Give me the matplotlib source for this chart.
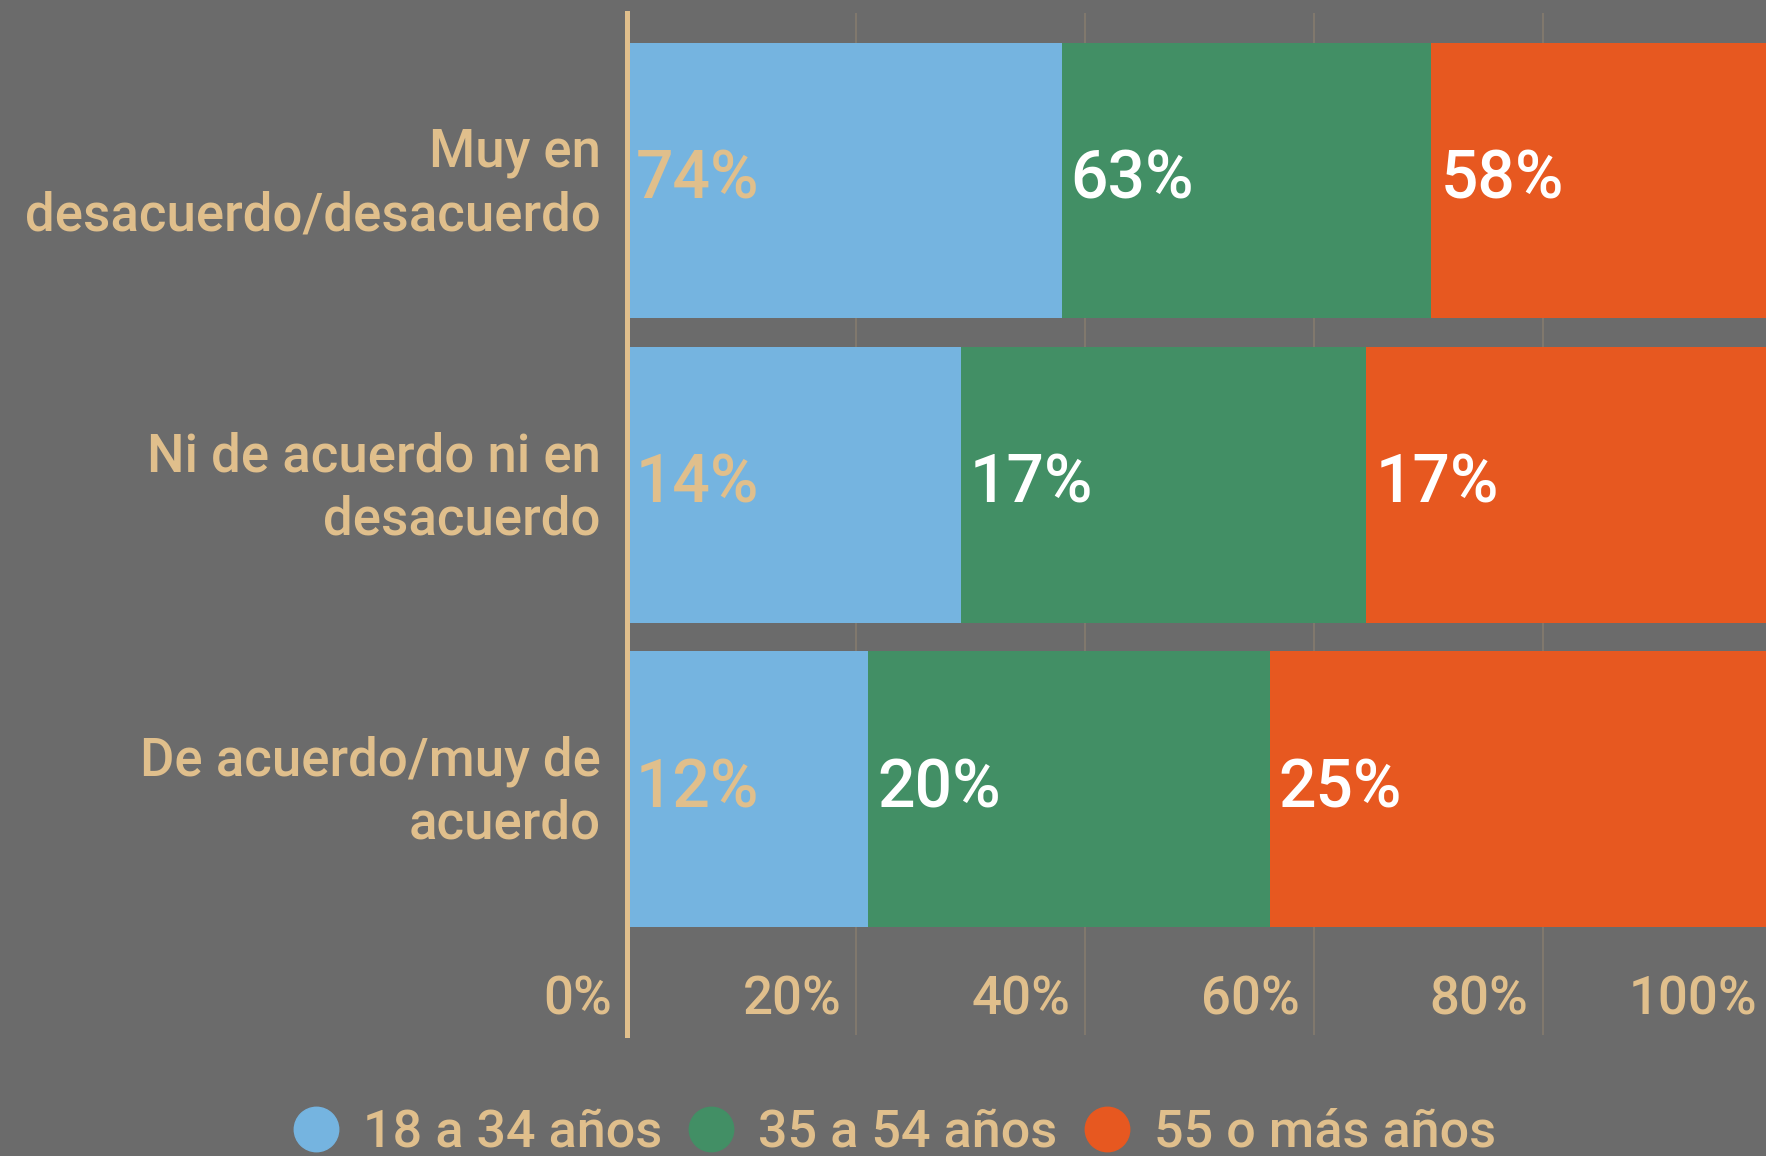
import numpy as np
import matplotlib
matplotlib.use('Agg')
import matplotlib.pyplot as plt
import matplotlib.transforms as mtransforms
from matplotlib.lines import Line2D

# --- Data ---
categories = ['Muy en\ndesacuerdo/desacuerdo',
              'Ni de acuerdo ni en\ndesacuerdo',
              'De acuerdo/muy de\nacuerdo']
series_names = ['18 a 34 años', '35 a 54 años', '55 o más años']
age_18_34 = [74, 14, 12]
age_35_54 = [63, 17, 20]
age_55_mas = [58, 17, 25]
x_ticks = [0, 20, 40, 60, 80, 100]

# --- Style ---
BG = '#6b6b6b'
TAN = '#e0bf8c'
COLORS = ['#75b4e0', '#428f65', '#e75820']
LABEL_COLORS = [TAN, 'white', 'white']
GRID = '#80786d'
plt.rcParams['font.family'] = ['Roboto', 'DejaVu Sans']
plt.rcParams['font.weight'] = 'medium'

fig = plt.figure(figsize=(17.66, 11.56), dpi=100, facecolor=BG)
ax = fig.add_axes([627 / 1766, 1 - 1035 / 1156, 1145 / 1766, 1022 / 1156])
ax.set_facecolor(BG)

series = np.array([age_18_34, age_35_54, age_55_mas], dtype=float)
shares = series / series.sum(axis=0) * 100
y = np.arange(len(categories))

left = np.zeros(len(categories))
for s, (vals, raw) in enumerate(zip(shares, series)):
    ax.barh(y, vals, left=left, height=0.905, color=COLORS[s], zorder=2)
    for i in range(len(categories)):
        ax.annotate(f"{int(raw[i])}%", (left[i], y[i]), xytext=(6.5, 0),
                    textcoords='offset points', ha='left', va='center',
                    fontsize=47.5, color=LABEL_COLORS[s], zorder=3)
    left += vals

ax.set_xlim(0, 100)
ax.set_ylim(2.808, -0.551)

# grid lines behind bars
for t in x_ticks[1:]:
    ax.axvline(t, color=GRID, lw=1.5, zorder=1)

# x tick labels sit inside the plot area, right-aligned left of each line
ax.set_xticks([])
for t in x_ticks:
    ax.annotate(f"{t}%", (t, 0.0342), xycoords=('data', 'axes fraction'),
                xytext=(-10.5, 0), textcoords='offset points',
                ha='right', va='center', fontsize=38, color=TAN,
                annotation_clip=False)

ax.set_yticks(y)
ax.set_yticklabels(categories, fontsize=38, color=TAN, ha='right',
                   multialignment='right', linespacing=1.3)
ax.tick_params(axis='y', length=0, pad=19)
# nudge the category labels up a little to match the reference
shift = mtransforms.ScaledTranslation(0, 0.08, fig.dpi_scale_trans)
for lbl in ax.get_yticklabels():
    lbl.set_transform(lbl.get_transform() + shift)

for side in ['top', 'right', 'bottom']:
    ax.spines[side].set_visible(False)
ax.spines['left'].set_color(TAN)
ax.spines['left'].set_linewidth(3.6)
ax.spines['left'].set_zorder(4)

# legend
handles = [Line2D([0], [0], marker='o', ls='none', markersize=32,
                  markerfacecolor=c, markeredgecolor=c) for c in COLORS]
leg = fig.legend(handles, series_names, loc='center', bbox_to_anchor=(0.507, 0.02),
                 ncol=3, frameon=False, fontsize=37.5, handlelength=0.8,
                 handletextpad=0.5, columnspacing=0.55, borderpad=0)
for txt in leg.get_texts():
    txt.set_color(TAN)

fig.savefig('out.png', dpi=100, facecolor=BG)
